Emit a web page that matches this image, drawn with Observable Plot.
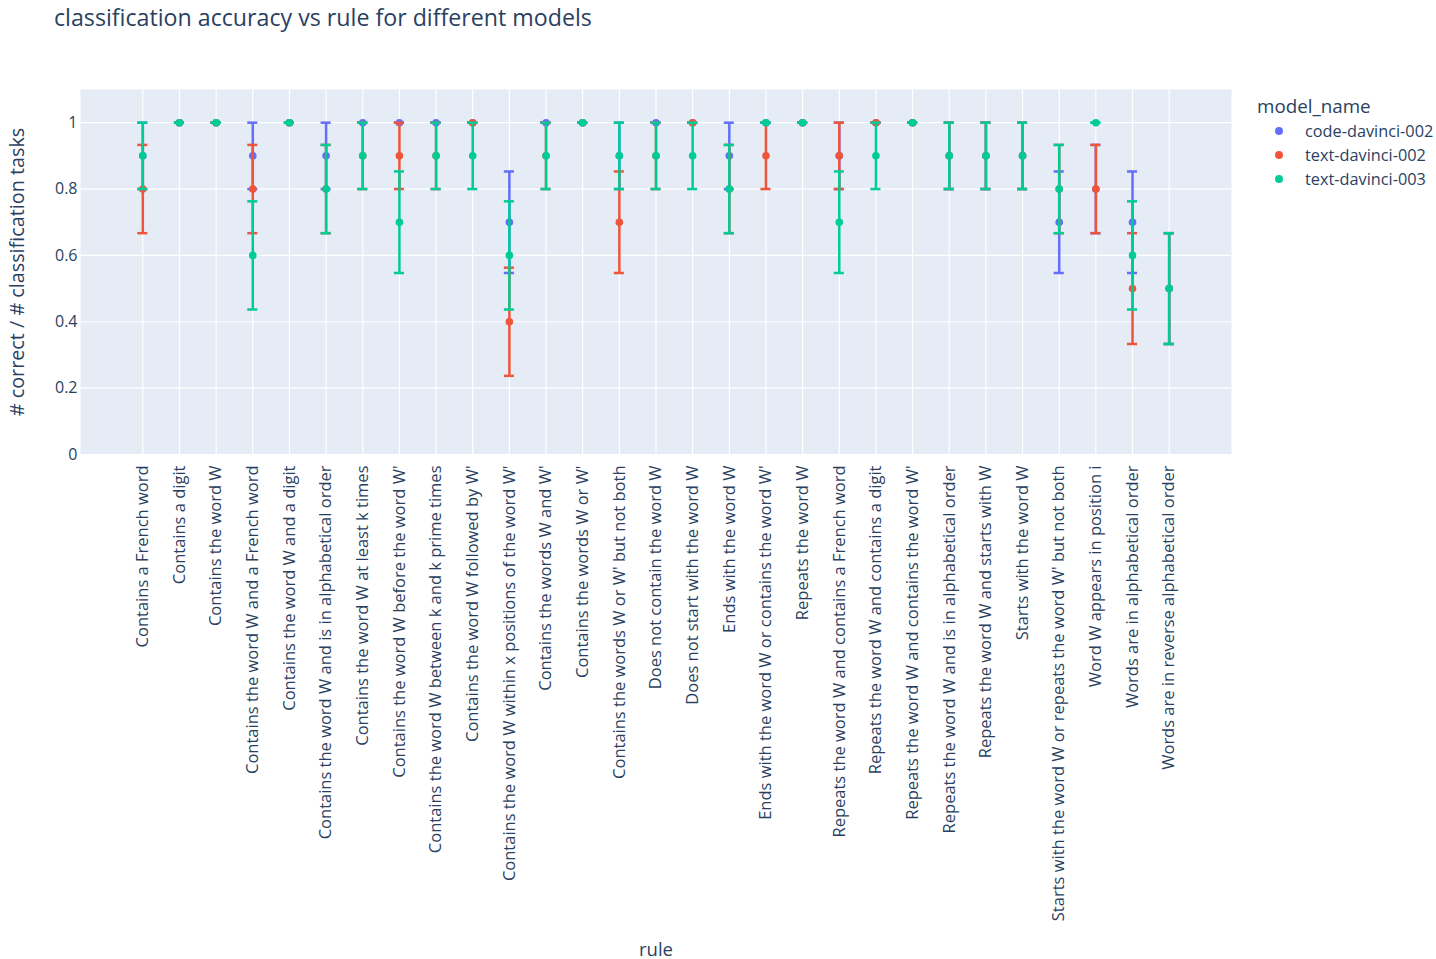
<!DOCTYPE html>
<html>
<head>
<meta charset="utf-8">
<script src="https://cdn.jsdelivr.net/npm/d3@7"></script>
<script src="https://cdn.jsdelivr.net/npm/@observablehq/plot@0.6"></script>
<style>
  html, body { margin: 0; padding: 0; background: #fff; }
  #wrap { position: relative; width: 1436px; height: 959px; font-family: "Open Sans", verdana, arial, sans-serif; color: #2a3f5f; }
  #title { position: absolute; left: 54px; top: 6px; font-size: 23.2px; line-height: 23px; white-space: nowrap; }
  #legend { position: absolute; left: 1257px; top: 95px; }
  #legend .lt { font-size: 18.8px; line-height: 22px; margin-bottom: 2px; }
  #legend .item { position: relative; height: 24px; font-size: 16.3px; line-height: 24px; padding-left: 48px; white-space: nowrap; }
  #legend .dot { position: absolute; left: 18px; top: 8px; width: 8px; height: 8px; border-radius: 50%; }
  svg { display: block; }
</style>
</head>
<body>
<div id="wrap">
  <div id="chart"></div>
  <div id="title">classification accuracy vs rule for different models</div>
  <div id="legend"></div>
</div>
<script>
const rules = [
  "Contains a French word",
  "Contains a digit",
  "Contains the word W",
  "Contains the word W and a French word",
  "Contains the word W and a digit",
  "Contains the word W and is in alphabetical order",
  "Contains the word W at least k times",
  "Contains the word W before the word W'",
  "Contains the word W between k and k prime times",
  "Contains the word W followed by W'",
  "Contains the word W within x positions of the word W'",
  "Contains the words W and W'",
  "Contains the words W or W'",
  "Contains the words W or W' but not both",
  "Does not contain the word W",
  "Does not start with the word W",
  "Ends with the word W",
  "Ends with the word W or contains the word W'",
  "Repeats the word W",
  "Repeats the word W and contains a French word",
  "Repeats the word W and contains a digit",
  "Repeats the word W and contains the word W'",
  "Repeats the word W and is in alphabetical order",
  "Repeats the word W and starts with W",
  "Starts with the word W",
  "Starts with the word W or repeats the word W' but not both",
  "Word W appears in position i",
  "Words are in alphabetical order",
  "Words are in reverse alphabetical order"
];

const models = ["code-davinci-002", "text-davinci-002", "text-davinci-003"];
const colors = ["#636efa", "#EF553B", "#00cc96"];

// accuracy per rule
const codeDavinci002 = [0.9, 1, 1, 0.9, 1, 0.9, 1, 1, 1, 1, 0.7, 1, 1, 0.9, 1, 1, 0.9, 1, 1, 0.9, 1, 1, 0.9, 0.9, 0.9, 0.7, 0.8, 0.7, 0.5];
const textDavinci002 = [0.8, 1, 1, 0.8, 1, 0.8, 0.9, 0.9, 0.9, 1, 0.4, 0.9, 1, 0.7, 0.9, 1, 0.8, 0.9, 1, 0.9, 1, 1, 0.9, 0.9, 0.9, 0.8, 0.8, 0.5, 0.5];
const textDavinci003 = [0.9, 1, 1, 0.6, 1, 0.8, 0.9, 0.7, 0.9, 0.9, 0.6, 0.9, 1, 0.9, 0.9, 0.9, 0.8, 1, 1, 0.7, 0.9, 1, 0.9, 0.9, 0.9, 0.8, 1, 0.6, 0.5];

// error bar half-lengths
const codeDavinci002Err = [0.1, 0, 0, 0.1, 0, 0.1, 0, 0, 0, 0, 0.153, 0, 0, 0.1, 0, 0, 0.1, 0, 0, 0.1, 0, 0, 0.1, 0.1, 0.1, 0.153, 0.133, 0.153, 0.167];
const textDavinci002Err = [0.133, 0, 0, 0.133, 0, 0.133, 0.1, 0.1, 0.1, 0, 0.163, 0.1, 0, 0.153, 0.1, 0, 0.133, 0.1, 0, 0.1, 0, 0, 0.1, 0.1, 0.1, 0.133, 0.133, 0.167, 0.167];
const textDavinci003Err = [0.1, 0, 0, 0.163, 0, 0.133, 0.1, 0.153, 0.1, 0.1, 0.163, 0.1, 0, 0.1, 0.1, 0.1, 0.133, 0, 0, 0.153, 0.1, 0, 0.1, 0.1, 0.1, 0.133, 0, 0.163, 0.167];

const yTicks = [0, 0.2, 0.4, 0.6, 0.8, 1];

const series = [
  {model: models[0], color: colors[0], acc: codeDavinci002, err: codeDavinci002Err},
  {model: models[1], color: colors[1], acc: textDavinci002, err: textDavinci002Err},
  {model: models[2], color: colors[2], acc: textDavinci003, err: textDavinci003Err}
];

const tables = series.map(s => rules.map((r, i) => ({rule: r, model: s.model, acc: s.acc[i], err: s.err[i]})));

const font = '"Open Sans", verdana, arial, sans-serif';
const ink = "#2a3f5f";
const capInset = 13.3;

const marks = [
  Plot.frame({fill: "#e5ecf6", stroke: "none"}),
  Plot.ruleX(rules, {x: d => d, stroke: "white", strokeWidth: 1.2}),
  Plot.ruleY(yTicks, {y: d => d, stroke: "white", strokeWidth: 1.2}),
];
series.forEach((s, k) => {
  const t = tables[k];
  marks.push(
    Plot.ruleX(t, {x: "rule", y1: d => d.acc - d.err, y2: d => d.acc + d.err, stroke: s.color, strokeWidth: 2.5}),
    Plot.tickY(t, {x: "rule", y: d => d.acc - d.err, stroke: s.color, strokeWidth: 2.5, insetLeft: capInset, insetRight: capInset}),
    Plot.tickY(t, {x: "rule", y: d => d.acc + d.err, stroke: s.color, strokeWidth: 2.5, insetLeft: capInset, insetRight: capInset}),
    Plot.dot(t, {x: "rule", y: "acc", fill: s.color, r: 3.8})
  );
});
marks.push(
  Plot.text(rules, {x: d => d, text: d => d, frameAnchor: "bottom", dy: 11, rotate: -90, textAnchor: "end", lineAnchor: "middle", fontSize: 16.5, fill: ink}),
  Plot.text(["# correct / # classification tasks"], {text: d => d, frameAnchor: "left", dx: -63, rotate: -90, textAnchor: "middle", lineAnchor: "middle", fontSize: 19.8, fill: ink}),
  Plot.text(["rule"], {text: d => d, frameAnchor: "bottom", dy: 496, textAnchor: "middle", lineAnchor: "middle", fontSize: 18.5, fill: ink})
);

const chart = Plot.plot({
  width: 1436,
  height: 959,
  marginLeft: 80,
  marginRight: 205,
  marginTop: 89,
  marginBottom: 505,
  style: {fontFamily: font, fontSize: "16px", color: ink, background: "white", overflow: "visible"},
  x: {type: "band", domain: rules, paddingInner: 0, paddingOuter: 1.2, align: 0.5, round: false, axis: null},
  y: {domain: [0, 1.1], ticks: yTicks, tickSize: 0, tickPadding: 3, tickFormat: d => String(d), label: null},
  marks
});
document.getElementById("chart").appendChild(chart);

const legend = document.getElementById("legend");
const lt = document.createElement("div");
lt.className = "lt";
lt.textContent = "model_name";
legend.appendChild(lt);
series.forEach(s => {
  const it = document.createElement("div");
  it.className = "item";
  const dot = document.createElement("span");
  dot.className = "dot";
  dot.style.background = s.color;
  it.appendChild(dot);
  it.appendChild(document.createTextNode(s.model));
  legend.appendChild(it);
});
</script>
</body>
</html>
